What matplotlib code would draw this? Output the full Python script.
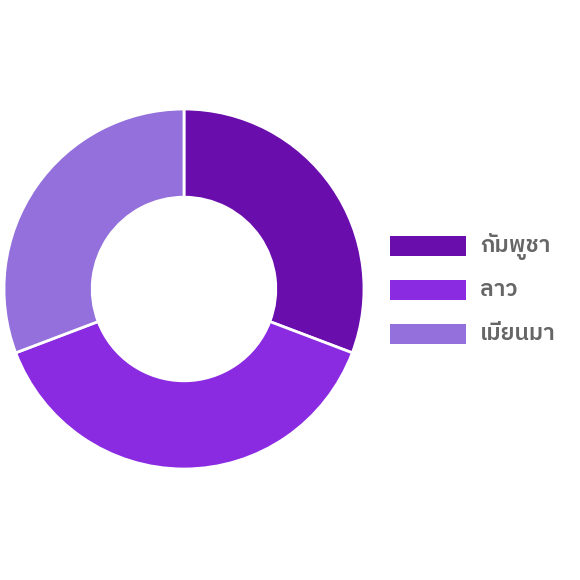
import matplotlib
matplotlib.use("Agg")
import matplotlib.pyplot as plt
from matplotlib.patches import Rectangle

labels = ["กัมพูชา", "ลาว", "เมียนมา"]
values = [4, 5, 4]
colors = ["#6a0dad", "#8a2be2", "#9370db"]

plt.rcParams["font.family"] = ["IBM Plex Sans Thai", "DejaVu Sans"]

W = H = 580
fig = plt.figure(figsize=(5.8, 5.8), dpi=100)
ax = fig.add_axes([4/W, (H-469)/H, 360/W, 360/H])
ax.pie(values, colors=colors, startangle=90, counterclock=False, radius=1.0,
       wedgeprops=dict(width=0.49, edgecolor="white", linewidth=2))
ax.set_xlim(-1, 1); ax.set_ylim(-1, 1)
ax.set_aspect("equal")
ax.axis("off")

# legend
for i, (lab, c) in enumerate(zip(labels, colors)):
    yc = 246 + 44*i
    fig.add_artist(Rectangle((390/W, (H-yc-10)/H), 76/W, 20/H, transform=fig.transFigure,
                             facecolor=c, edgecolor="none"))
    fig.text(480/W, (H-yc)/H, lab, fontsize=16.6, color="#666666", fontweight="semibold",
             ha="left", va="center")
fig.savefig("out.png", dpi=100)
